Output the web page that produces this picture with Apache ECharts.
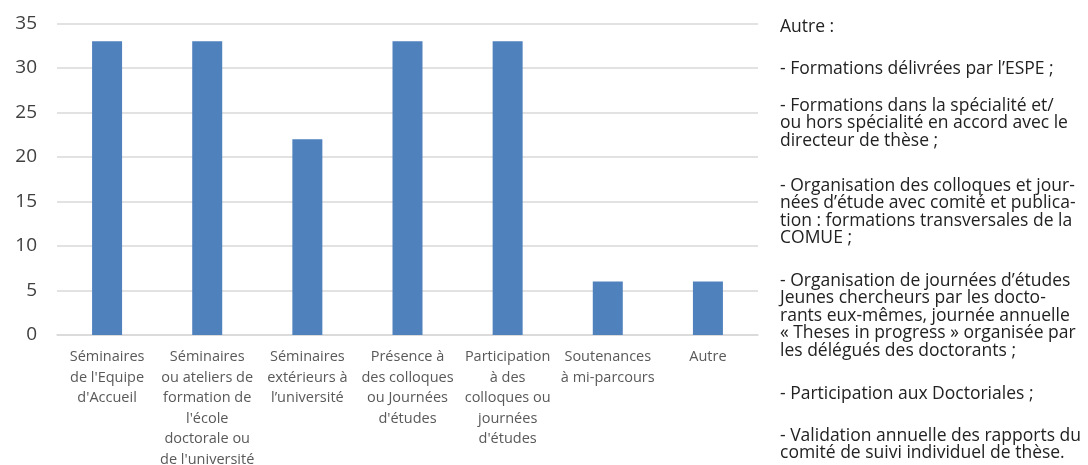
<!DOCTYPE html>
<html>
<head>
<meta charset="utf-8">
<script src="https://cdn.jsdelivr.net/npm/echarts@6/dist/echarts.min.js"></script>
<style>
  html, body { margin: 0; padding: 0; background: #fff; }
  #chart { width: 1088px; height: 465px; }
</style>
</head>
<body>
<div id="chart"></div>
<script>
// Types de formations suivies par les doctorants
const categories = [
  "Séminaires\nde l'Equipe\nd'Accueil",
  "Séminaires\nou ateliers de\nformation de\nl'école\ndoctorale ou\nde l'université",
  "Séminaires\nextérieurs à\nl’université",
  "Présence à\ndes colloques\nou Journées\nd'études",
  "Participation\nà des\ncolloques ou\njournées\nd'études",
  "Soutenances\nà mi-parcours",
  "Autre"
];
const values = [33, 33, 22, 33, 33, 6, 6];
const yTicks = { min: 0, max: 35, interval: 5 };

// Précisions sur la catégorie « Autre »
const notes = [
  "Autre :",
  "- Formations délivrées par l’ESPE ;",
  "- Formations dans la spécialité et/\nou hors spécialité en accord avec le\ndirecteur de thèse ;",
  "- Organisation des colloques et jour-\nnées d’étude avec comité et publica-\ntion : formations transversales de la\nCOMUE ;",
  "- Organisation de journées d’études\nJeunes chercheurs par les docto-\nrants eux-mêmes, journée annuelle\n« Theses in progress » organisée par\nles délégués des doctorants ;",
  "- Participation aux Doctoriales ;",
  "- Validation annuelle des rapports du\ncomité de suivi individuel de thèse."
];
const noteTops = [18, 60, 97, 177, 272, 385, 427];

const chart = echarts.init(document.getElementById('chart'), null, { renderer: 'canvas' });

chart.setOption({
  backgroundColor: '#ffffff',
  animation: false,
  grid: {
    left: 57, right: 330, top: 23.5, bottom: 130,
    containLabel: false,
    outerBoundsMode: 'none'
  },
  xAxis: {
    type: 'category',
    data: categories,
    axisLine: { show: true, lineStyle: { color: '#d9d9d9', width: 1.5 } },
    axisTick: { show: false },
    axisLabel: {
      interval: 0,
      margin: 12,
      color: '#595959',
      fontFamily: 'Open Sans',
      fontSize: 14.5,
      lineHeight: 20.5,
      align: 'center',
      hideOverlap: false
    }
  },
  yAxis: {
    type: 'value',
    min: yTicks.min,
    max: yTicks.max,
    interval: yTicks.interval,
    axisLine: { show: false },
    axisTick: { show: false },
    splitLine: { lineStyle: { color: '#d9d9d9', width: 1.5 } },
    axisLabel: {
      margin: 20,
      color: '#404040',
      fontFamily: 'Open Sans',
      fontSize: 19
    }
  },
  series: [{
    type: 'bar',
    data: values,
    barWidth: 30,
    itemStyle: { color: '#4f81bd' }
  }],
  graphic: notes.map((t, i) => ({
    type: 'text',
    left: 780,
    top: noteTops[i],
    style: {
      text: t,
      fill: '#222222',
      font: '17.5px "Open Sans"',
      lineHeight: 17.5
    }
  }))
});
</script>
</body>
</html>
